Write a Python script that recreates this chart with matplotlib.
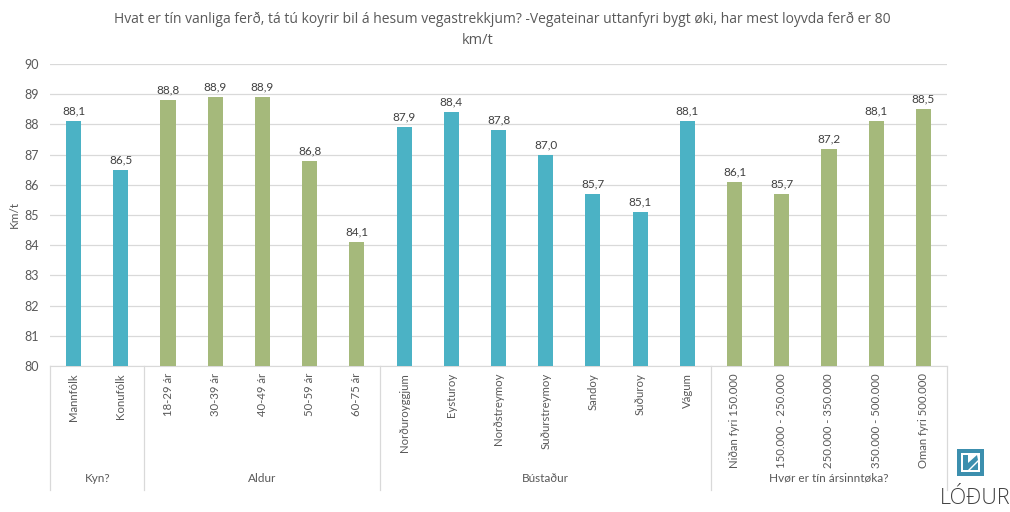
import matplotlib
matplotlib.use("Agg")
import matplotlib.pyplot as plt
from matplotlib.patches import Rectangle, Polygon
import numpy as np

plt.rcParams['font.family'] = ['Lato', 'DejaVu Sans']

categories = ["Mannfólk", "Konufólk",
              "18-29 ár", "30-39 ár", "40-49 ár", "50-59 ár", "60-75 ár",
              "Norðuroyggjum", "Eysturoy", "Norðstreymoy", "Suðurstreymoy", "Sandoy", "Suðuroy", "Vágum",
              "Niðan fyri 150.000", "150.000 - 250.000", "250.000 - 350.000", "350.000 - 500.000", "Oman fyri 500.000"]
values = [88.1, 86.5,
          88.8, 88.9, 88.9, 86.8, 84.1,
          87.9, 88.4, 87.8, 87.0, 85.7, 85.1, 88.1,
          86.1, 85.7, 87.2, 88.1, 88.5]
groups = ["Kyn?", "Aldur", "Bústaður", "Hvør er tín ársinntøka?"]
group_sizes = [2, 5, 7, 5]
group_colors = ["#4BB2C5", "#A5B97B", "#4BB2C5", "#A5B97B"]

W, H = 1010, 512
fig = plt.figure(figsize=(W / 100, H / 100), dpi=100)
x0, x1, ytop, ybot = 50, 947, 64, 366
ax = fig.add_axes([x0 / W, 1 - ybot / H, (x1 - x0) / W, (ybot - ytop) / H])

colors = []
for c, n in zip(group_colors, group_sizes):
    colors += [c] * n
x = np.arange(len(categories))
ax.bar(x, np.array(values) - 80, bottom=80, width=0.32, color=colors, zorder=3)
for xi, v in zip(x, values):
    ax.text(xi, v + 0.15, f"{v:.1f}".replace(".", ","), ha="center", va="bottom",
            fontsize=8.5, color="#404040")

ax.set_xlim(-0.5, len(categories) - 0.5)
ax.set_ylim(80, 90)
ax.set_yticks(range(80, 91))
ax.yaxis.grid(True, color="#D9D9D9", linewidth=0.9, zorder=0)
ax.set_axisbelow(True)
for s in ["top", "right", "left"]:
    ax.spines[s].set_visible(False)
ax.spines["bottom"].set_color("#D9D9D9")
ax.tick_params(axis="y", length=0, labelsize=9, labelcolor="#595959", pad=8)
ax.set_xticks(x)
ax.set_xticklabels(categories, rotation=90, fontsize=8.2, color="#595959")
ax.tick_params(axis="x", length=0, pad=5)
ax.set_ylabel("Km/t", fontsize=8.5, color="#595959", labelpad=3)

# group separators and labels
trans = ax.get_xaxis_transform()
sep_depth = -(490 - ybot) / (ybot - ytop)
lab_y = -(478 - ybot) / (ybot - ytop)
bounds = np.concatenate([[0], np.cumsum(group_sizes)]) - 0.5
for b in bounds:
    ax.plot([b, b], [0, sep_depth], transform=trans, color="#D9D9D9", lw=0.9, clip_on=False)
for g, a, b in zip(groups, bounds[:-1], bounds[1:]):
    ax.text((a + b) / 2, lab_y, g, transform=trans, ha="center", va="center",
            fontsize=8.5, color="#595959")

# title
tfam = ["Open Sans", "DejaVu Sans"]
fig.text(502 / W, 1 - 19 / H,
         "Hvat er tín vanliga ferð, tá tú koyrir bil á hesum vegastrekkjum? -Vegateinar uttanfyri bygt øki, har mest loyvda ferð er 80",
         ha="center", va="center", fontsize=10, color="#595959", family=tfam)
fig.text(478 / W, 1 - 40 / H, "km/t", ha="center", va="center", fontsize=10.5, color="#595959",
         family=tfam)

# logo
lx0, ly0, ls = 957, 449, 27
def fx(px):
    return px / W
def fy(py):
    return 1 - py / H
fig.patches.append(Rectangle((fx(lx0), fy(ly0 + ls)), ls / W, ls / H, transform=fig.transFigure,
                             facecolor="#3C8FAE", edgecolor="none"))
fig.patches.append(Rectangle((fx(lx0 + 4), fy(ly0 + ls - 4)), (ls - 8) / W, (ls - 8) / H,
                             transform=fig.transFigure, facecolor="white", edgecolor="none"))
fig.patches.append(Polygon([(fx(lx0 + 6), fy(ly0 + 6)), (fx(lx0 + 11), fy(ly0 + 6)),
                            (fx(lx0 + 11), fy(ly0 + 14)), (fx(lx0 + 20), fy(ly0 + 6)),
                            (fx(lx0 + 21), fy(ly0 + 11)), (fx(lx0 + 11), fy(ly0 + 21)),
                            (fx(lx0 + 6), fy(ly0 + 21))],
                           closed=True, transform=fig.transFigure, facecolor="#3C8FAE", edgecolor="none"))
fig.patches.append(Polygon([(fx(lx0 + 21), fy(ly0 + 13)), (fx(lx0 + 21), fy(ly0 + 21)),
                            (fx(lx0 + 13), fy(ly0 + 21))],
                           closed=True, transform=fig.transFigure, facecolor="#3C8FAE", edgecolor="none"))
fig.text(975 / W, 1 - 499 / H, "LÓÐUR", ha="center", va="center", fontsize=15.5,
         color="#404040", family=["Open Sans", "DejaVu Sans"], fontweight="light")

fig.savefig("out.png", dpi=100, facecolor="white")
